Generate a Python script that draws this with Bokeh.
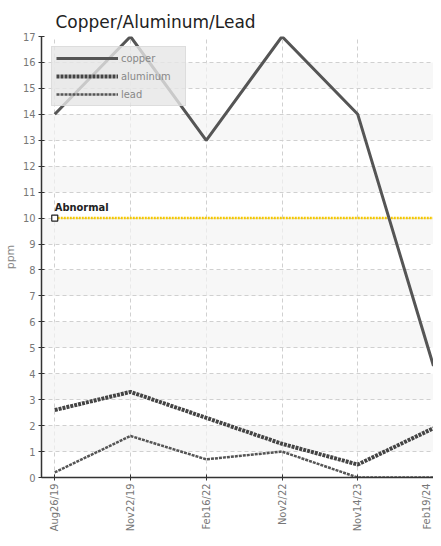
from bokeh.plotting import figure
from bokeh.models import FixedTicker, Range1d, Legend, LegendItem, Label
from bokeh.embed import file_html
from bokeh.resources import INLINE

dates = ["Aug26/19", "Nov22/19", "Feb16/22", "Nov2/22", "Nov14/23", "Feb19/24"]
copper = [14, 17, 13, 17, 14, 4.3]
aluminum = [2.6, 3.3, 2.3, 1.3, 0.5, 1.9]
lead = [0.2, 1.6, 0.7, 1.0, 0.0, 0.0]
abnormal_level = 10
y_ticks = list(range(0, 18))

xs = list(range(len(dates)))
COND = "DejaVu Sans Condensed"

p = figure(width=433, height=538, output_backend="svg", toolbar_location=None,
           x_range=Range1d(-0.175, 5.0), y_range=Range1d(0, 17),
           min_border_left=35, min_border_right=0, min_border_top=36, min_border_bottom=61)
p.title.text = "Copper/Aluminum/Lead"
p.title.text_font = "DejaVu Sans"
p.title.text_font_size = "17px"
p.title.text_font_style = "normal"
p.title.text_color = "#222222"
p.title.offset = 14
p.outline_line_color = None
p.background_fill_color = "white"

# grids
p.xgrid.ticker = FixedTicker(ticks=xs)
p.ygrid.ticker = FixedTicker(ticks=y_ticks)
for g in (p.xgrid, p.ygrid):
    g.grid_line_color = "#d0d0d0"
    g.grid_line_dash = "4 3"
    g.grid_line_width = 1
p.ygrid.band_fill_color = "#f4f4f4"
p.ygrid.band_fill_alpha = 0.7

# axes
p.xaxis.ticker = FixedTicker(ticks=xs)
p.xaxis.major_label_overrides = {i: d for i, d in enumerate(dates)}
p.xaxis.major_label_orientation = 1.5708
p.yaxis.ticker = FixedTicker(ticks=y_ticks)
p.yaxis.axis_label = "ppm"
p.yaxis.axis_label_text_font = "DejaVu Sans"
p.yaxis.axis_label_text_font_style = "normal"
p.yaxis.axis_label_text_font_size = "11px"
p.yaxis.axis_label_text_color = "#888888"
p.yaxis.axis_label_standoff = 3
for ax in (p.xaxis, p.yaxis):
    ax.axis_line_color = "#333333"
    ax.axis_line_width = 1.5
    ax.major_tick_line_color = "#333333"
    ax.major_tick_in = 3
    ax.major_tick_out = 3
    ax.minor_tick_line_color = None
    ax.major_label_text_font = COND
    ax.major_label_text_font_size = "11px"
    ax.major_label_text_color = "#777777"
    ax.major_label_standoff = 3

# threshold
p.line(x=[0, 5.0], y=[abnormal_level, abnormal_level], line_color="#f5c800", line_width=2.5, line_dash="2 1")
p.scatter(x=[0], y=[abnormal_level], marker="square", size=6, fill_color="white", line_color="#222222", line_width=1.2)
p.add_layout(Label(x=0, y=abnormal_level, text="Abnormal", x_offset=0, y_offset=4,
                   text_font=COND, text_font_size="11px", text_font_style="bold", text_color="#222222"))

r_cu = p.line(x=xs, y=copper, line_color="#555555", line_width=3)
r_al = p.line(x=xs, y=aluminum, line_color="#444444", line_width=4, line_dash="3 1")
r_pb = p.line(x=xs, y=lead, line_color="#555555", line_width=2.5, line_dash="3 1")

legend = Legend(items=[LegendItem(label="copper", renderers=[r_cu]),
                       LegendItem(label="aluminum", renderers=[r_al]),
                       LegendItem(label="lead", renderers=[r_pb])],
                location="top_left", margin=10, padding=4, spacing=4,
                glyph_width=62, glyph_height=12, label_height=14, label_width=60,
                label_standoff=3,
                label_text_font=COND, label_text_font_size="11px", label_text_color="#888888",
                background_fill_color="#e6e6e6", background_fill_alpha=0.8,
                border_line_color="#d0d0d0", border_line_width=1)
p.add_layout(legend)

open("out.html", "w").write(file_html(p, INLINE))
